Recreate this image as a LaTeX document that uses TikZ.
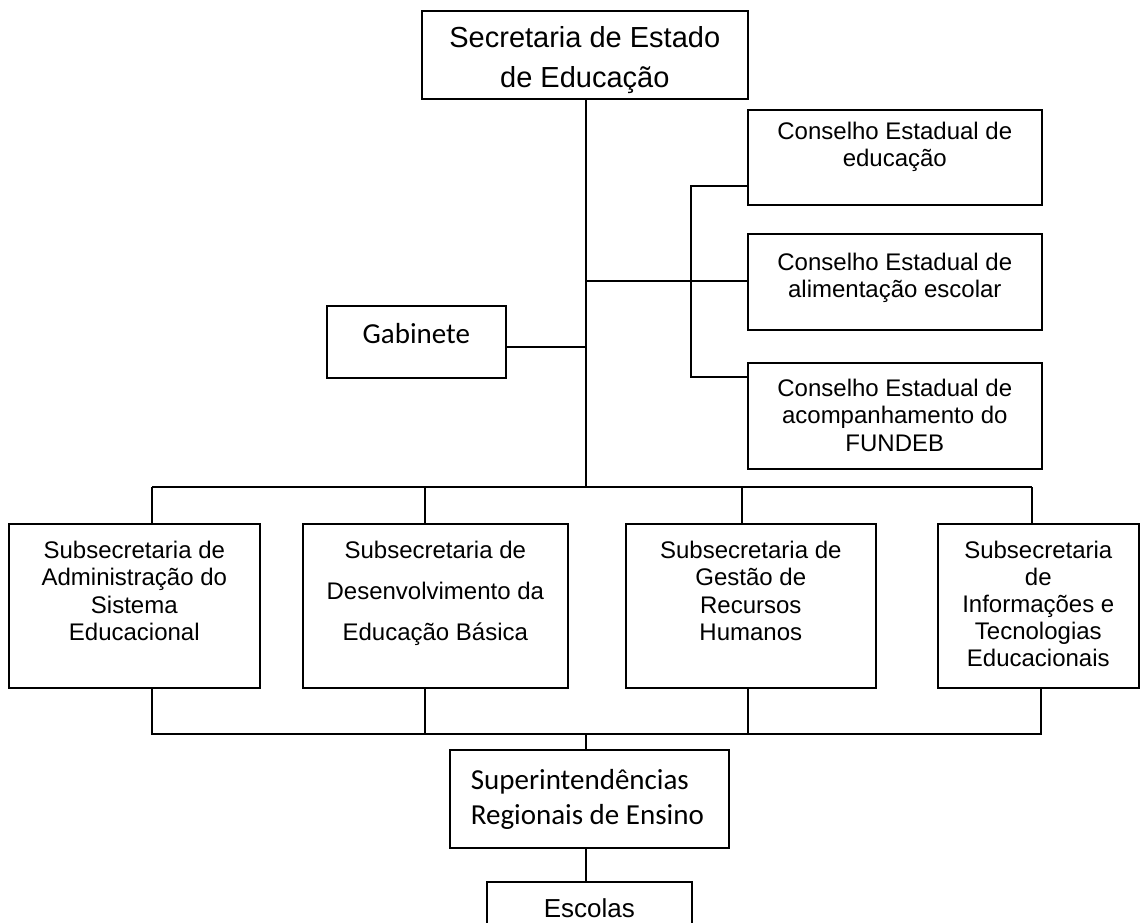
\documentclass[tikz,border=0pt]{standalone}
\usepackage{fontspec}
\setmainfont{Liberation Sans}
\newfontfamily\calib{Carlito}
\begin{document}
\begin{tikzpicture}[x=1pt,y=-1pt,
  box/.style={draw, line width=1.6pt, inner sep=0pt, anchor=north west},
  conn/.style={line width=1.6pt}]
\useasboundingbox (0,0) rectangle (1140,922);
% boxes
\node[box] (top) at (421,10) {\parbox[c][88pt][t]{326pt}{\centering\fontsize{29pt}{40pt}\selectfont\vspace*{16pt}Secretaria de Estado\\de Educação}};
\node[box] (cons1) at (747,109) {\parbox[c][95pt][t]{294pt}{\centering\fontsize{24pt}{27.5pt}\selectfont\vspace*{12pt}Conselho Estadual de\\educação}};
\node[box] (cons2) at (747,233) {\parbox[c][96pt][t]{294pt}{\centering\fontsize{24pt}{27.5pt}\selectfont\vspace*{19pt}Conselho Estadual de\\alimentação escolar}};
\node[box] (cons3) at (747,362) {\parbox[c][106pt][t]{294pt}{\centering\fontsize{24pt}{27.5pt}\selectfont\vspace*{16pt}Conselho Estadual de\\acompanhamento do\\FUNDEB}};
\node[box] (gab) at (326,305) {\parbox[c][72pt][t]{179pt}{\centering\calib\fontsize{29pt}{35pt}\selectfont\vspace*{18pt}Gabinete}};
\node[box] (sub1) at (8,523) {\parbox[c][164pt][t]{251pt}{\centering\fontsize{24pt}{27.5pt}\selectfont\vspace*{17pt}Subsecretaria de\\Administração do\\Sistema\\Educacional}};
\node[box] (sub2) at (302,523) {\parbox[c][164pt][t]{265pt}{\centering\fontsize{24pt}{41pt}\selectfont\vspace*{17pt}Subsecretaria de\\Desenvolvimento da\\Educação Básica}};
\node[box] (sub3) at (625,523) {\parbox[c][164pt][t]{250pt}{\centering\fontsize{24pt}{27.5pt}\selectfont\vspace*{17pt}Subsecretaria de\\Gestão de\\Recursos\\Humanos}};
\node[box] (sub4) at (937,523) {\parbox[c][164pt][t]{201pt}{\centering\fontsize{24pt}{27pt}\selectfont\vspace*{17pt}Subsecretaria\\de\\Informações e\\Tecnologias\\Educacionais}};
\node[box] (sup) at (449,749) {\parbox[c][98pt][t]{279pt}{\raggedright\leftskip=21pt\calib\fontsize{29pt}{35pt}\selectfont\vspace*{20pt}Superintendências\\Regionais de Ensino}};
\node[box] (esc) at (486,881) {\parbox[c][60pt][t]{205pt}{\centering\fontsize{26pt}{30pt}\selectfont\vspace*{17pt}Escolas}};
% junction coordinates
\coordinate (hub) at (586,487);
\coordinate (gabj) at (586,347);
\coordinate (consj) at (586,281);
\coordinate (cv1) at (691,186);
\coordinate (cv2) at (691,281);
\coordinate (cv3) at (691,377);
\coordinate (u1) at (152,487);
\coordinate (u2) at (425,487);
\coordinate (u3) at (742,487);
\coordinate (u4) at (1032,487);
\coordinate (l1) at (152,734);
\coordinate (l2) at (425,734);
\coordinate (l3) at (748,734);
\coordinate (l4) at (1041,734);
\coordinate (lh) at (586,734);
% connectors
\draw[conn] (top.south -| hub) -- (hub);
\draw[conn] (gab.east |- gabj) -- (gabj);
\draw[conn] (consj) -- (cons2.west |- consj);
\draw[conn] (cons1.west |- cv1) -- (cv1) -- (cv3) -- (cons3.west |- cv3);
\draw[conn] (u1) -- (u4);
\draw[conn] (u1) -- (sub1.north -| u1);
\draw[conn] (u2) -- (sub2.north -| u2);
\draw[conn] (u3) -- (sub3.north -| u3);
\draw[conn] (u4) -- (sub4.north -| u4);
\draw[conn] (sub1.south -| l1) -- (l1) -- (l4) -- (sub4.south -| l4);
\draw[conn] (sub2.south -| l2) -- (l2);
\draw[conn] (sub3.south -| l3) -- (l3);
\draw[conn] (lh) -- (sup.north -| lh);
\draw[conn] (sup.south -| lh) -- (esc.north -| lh);
\end{tikzpicture}
\end{document}
